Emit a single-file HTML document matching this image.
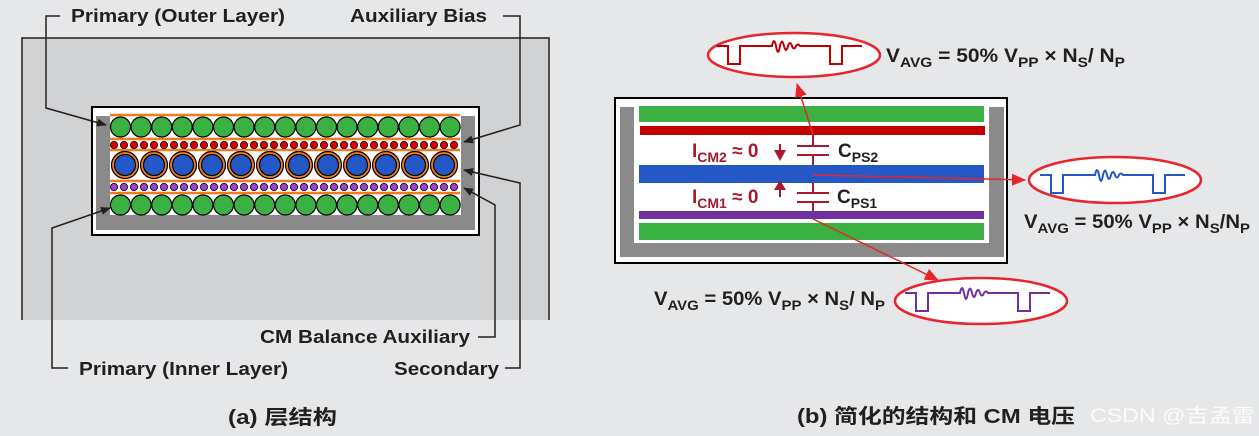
<!DOCTYPE html>
<html><head><meta charset="utf-8"><style>
html,body{margin:0;padding:0;background:#e6e7e9;}
svg{display:block;}
text{font-family:"Liberation Sans","Noto Sans CJK SC",sans-serif;font-weight:bold;}
</style></head><body>
<svg width="1259" height="436" viewBox="0 0 1259 436" xmlns="http://www.w3.org/2000/svg">
<defs>
<marker id="ab" markerWidth="10" markerHeight="8" refX="9" refY="4" orient="auto" markerUnits="userSpaceOnUse"><path d="M0,0 L10,4 L0,8 z" fill="#231f20"/></marker>
<marker id="ar" markerWidth="14" markerHeight="12" refX="13" refY="6" orient="auto" markerUnits="userSpaceOnUse"><path d="M0,0 L14,6 L0,12 z" fill="#e8242c"/></marker>
<path id="wave" d="M0,0 H11 V18 H23 V0 H55 q2,-10 4,0 q2,12 4,0 q2,-9 4,0 q2,8 4,0 q2,-6 4,0 q2,5 4,0 q2,-3 4,0 H113 V18 H125 V0 H145" fill="none" stroke-width="2"/>
</defs>
<!-- (a) -->
<rect x="22" y="38" width="527" height="282" fill="#d1d2d4"/>
<path d="M22,320 V38 H549 V320" fill="none" stroke="#231f20" stroke-width="1.5"/>
<rect x="92" y="107" width="387" height="128" fill="#fff" stroke="#000" stroke-width="2"/>
<path d="M96,116 H110 V215 H461 V116 H475 V230 H96 z" fill="#8a8a8a"/>
<g stroke="#f47a20" stroke-width="2.5">
<line x1="110" y1="115" x2="460" y2="115"/><line x1="110" y1="139" x2="460" y2="139"/>
<line x1="110" y1="150" x2="460" y2="150"/><line x1="110" y1="181" x2="460" y2="181"/>
<line x1="110" y1="193" x2="460" y2="193"/>
</g>
<!-- leaders -->
<g stroke="#231f20" stroke-width="1.5" fill="none">
<path d="M60,16 H46 V108 L106,125" marker-end="url(#ab)"/>
<path d="M503,16 H520 V125 L464,142" marker-end="url(#ab)"/>
<path d="M505,368 H520 V183 L464,170" marker-end="url(#ab)"/>
<path d="M478,337 H495 V205 L464,188" marker-end="url(#ab)"/>
<path d="M68,368 H52 V228 L110,208" marker-end="url(#ab)"/>
</g>
<g fill="#231f20" font-size="18" lengthAdjust="spacingAndGlyphs">
<text x="71" y="22" textLength="214" lengthAdjust="spacingAndGlyphs">Primary (Outer Layer)</text>
<text x="350" y="22" textLength="137" lengthAdjust="spacingAndGlyphs">Auxiliary Bias</text>
<text x="260" y="343" textLength="210" lengthAdjust="spacingAndGlyphs">CM Balance Auxiliary</text>
<text x="79" y="375" textLength="209" lengthAdjust="spacingAndGlyphs">Primary (Inner Layer)</text>
<text x="394" y="375" textLength="105" lengthAdjust="spacingAndGlyphs">Secondary</text>
</g>
<text x="228" y="424" font-size="20" fill="#231f20" textLength="109" lengthAdjust="spacingAndGlyphs">(a) 层结构</text>
<!-- (b) -->
<rect x="615" y="98" width="392" height="165" fill="#fff" stroke="#000" stroke-width="2"/>
<path d="M620,107 H634 V243 H989 V107 H1004 V257 H620 z" fill="#8a8a8a"/>
<rect x="639" y="106" width="345" height="16" fill="#3bb143"/>
<rect x="640" y="126" width="345" height="9" fill="#c00000"/>
<rect x="639" y="165" width="345" height="18" fill="#2458c6"/>
<rect x="639" y="211" width="345" height="8" fill="#7030a0"/>
<rect x="639" y="223" width="345" height="17" fill="#3bb143"/>
<g stroke="#a6192e" stroke-width="2">
<line x1="813" y1="135" x2="813" y2="146"/><line x1="797" y1="146" x2="829" y2="146"/>
<line x1="797" y1="155" x2="829" y2="155"/><line x1="813" y1="155" x2="813" y2="165"/>
<line x1="813" y1="183" x2="813" y2="193"/><line x1="797" y1="193" x2="829" y2="193"/>
<line x1="797" y1="202" x2="829" y2="202"/><line x1="813" y1="202" x2="813" y2="211"/>
<line x1="780" y1="144" x2="780" y2="152"/><line x1="780" y1="182" x2="780" y2="197"/>
</g>
<path d="M774,150 L786,150 L780,161 z" fill="#a6192e"/>
<path d="M774,190 L786,190 L780,180 z" fill="#a6192e"/>
<g fill="#a6192e" font-size="19">
<text x="692" y="157">I<tspan font-size="14" dy="5">CM2</tspan><tspan dy="-5"> ≈ 0</tspan></text>
<text x="692" y="203">I<tspan font-size="14" dy="5">CM1</tspan><tspan dy="-5"> ≈ 0</tspan></text>
</g>
<g fill="#231f20" font-size="19">
<text x="838" y="157">C<tspan font-size="14" dy="5">PS2</tspan></text>
<text x="837" y="203">C<tspan font-size="14" dy="5">PS1</tspan></text>
</g>
<g stroke="#e8242c" stroke-width="1.5" fill="none">
<line x1="813" y1="135" x2="797" y2="84" marker-end="url(#ar)"/>
<line x1="813" y1="175" x2="1025" y2="180" marker-end="url(#ar)"/>
<line x1="813" y1="219" x2="938" y2="280" marker-end="url(#ar)"/>
</g>
<g fill="#fff" stroke="#e8242c" stroke-width="2.5">
<ellipse cx="794" cy="55" rx="86" ry="22"/>
<ellipse cx="1115" cy="180" rx="86" ry="23"/>
<ellipse cx="981" cy="301" rx="86" ry="23"/>
</g>
<use href="#wave" x="717" y="46" stroke="#c00000"/>
<use href="#wave" x="1040" y="175" stroke="#2458c6"/>
<use href="#wave" x="905" y="293" stroke="#7030a0"/>
<g fill="#231f20" font-size="19">
<text x="886" y="62" textLength="239" lengthAdjust="spacingAndGlyphs">V<tspan font-size="14" dy="5">AVG</tspan><tspan dy="-5"> = 50% V</tspan><tspan font-size="14" dy="5">PP</tspan><tspan dy="-5"> × N</tspan><tspan font-size="14" dy="5">S</tspan><tspan dy="-5">/ N</tspan><tspan font-size="14" dy="5">P</tspan></text>
<text x="1024" y="228" textLength="226" lengthAdjust="spacingAndGlyphs">V<tspan font-size="14" dy="5">AVG</tspan><tspan dy="-5"> = 50% V</tspan><tspan font-size="14" dy="5">PP</tspan><tspan dy="-5"> × N</tspan><tspan font-size="14" dy="5">S</tspan><tspan dy="-5">/N</tspan><tspan font-size="14" dy="5">P</tspan></text>
<text x="654" y="305" textLength="231" lengthAdjust="spacingAndGlyphs">V<tspan font-size="14" dy="5">AVG</tspan><tspan dy="-5"> = 50% V</tspan><tspan font-size="14" dy="5">PP</tspan><tspan dy="-5"> × N</tspan><tspan font-size="14" dy="5">S</tspan><tspan dy="-5">/ N</tspan><tspan font-size="14" dy="5">P</tspan></text>
</g>
<text x="797" y="423" font-size="20" fill="#231f20" textLength="278" lengthAdjust="spacingAndGlyphs">(b) 简化的结构和 CM 电压</text>
<text x="1090" y="422" font-size="19" fill="#fff" style="font-weight:normal" opacity="0.85" textLength="165" lengthAdjust="spacingAndGlyphs">CSDN @吉孟雷</text>
<!-- circles -->
<g stroke="#000" stroke-width="1.2">
<g fill="#3bb143">
<circle cx="120.5" cy="127" r="10"/><circle cx="141.1" cy="127" r="10"/><circle cx="161.7" cy="127" r="10"/><circle cx="182.3" cy="127" r="10"/><circle cx="202.9" cy="127" r="10"/><circle cx="223.5" cy="127" r="10"/><circle cx="244.1" cy="127" r="10"/><circle cx="264.7" cy="127" r="10"/><circle cx="285.3" cy="127" r="10"/><circle cx="305.9" cy="127" r="10"/><circle cx="326.5" cy="127" r="10"/><circle cx="347.1" cy="127" r="10"/><circle cx="367.7" cy="127" r="10"/><circle cx="388.3" cy="127" r="10"/><circle cx="408.9" cy="127" r="10"/><circle cx="429.5" cy="127" r="10"/><circle cx="450.1" cy="127" r="10"/>
<circle cx="120.5" cy="205" r="10"/><circle cx="141.1" cy="205" r="10"/><circle cx="161.7" cy="205" r="10"/><circle cx="182.3" cy="205" r="10"/><circle cx="202.9" cy="205" r="10"/><circle cx="223.5" cy="205" r="10"/><circle cx="244.1" cy="205" r="10"/><circle cx="264.7" cy="205" r="10"/><circle cx="285.3" cy="205" r="10"/><circle cx="305.9" cy="205" r="10"/><circle cx="326.5" cy="205" r="10"/><circle cx="347.1" cy="205" r="10"/><circle cx="367.7" cy="205" r="10"/><circle cx="388.3" cy="205" r="10"/><circle cx="408.9" cy="205" r="10"/><circle cx="429.5" cy="205" r="10"/><circle cx="450.1" cy="205" r="10"/>
</g>
<g fill="#e00000" stroke-width="0.8">
<circle cx="114" cy="145" r="3.6"/><circle cx="124" cy="145" r="3.6"/><circle cx="134" cy="145" r="3.6"/><circle cx="144" cy="145" r="3.6"/><circle cx="154" cy="145" r="3.6"/><circle cx="164" cy="145" r="3.6"/><circle cx="174" cy="145" r="3.6"/><circle cx="184" cy="145" r="3.6"/><circle cx="194" cy="145" r="3.6"/><circle cx="204" cy="145" r="3.6"/><circle cx="214" cy="145" r="3.6"/><circle cx="224" cy="145" r="3.6"/><circle cx="234" cy="145" r="3.6"/><circle cx="244" cy="145" r="3.6"/><circle cx="254" cy="145" r="3.6"/><circle cx="264" cy="145" r="3.6"/><circle cx="274" cy="145" r="3.6"/><circle cx="284" cy="145" r="3.6"/><circle cx="294" cy="145" r="3.6"/><circle cx="304" cy="145" r="3.6"/><circle cx="314" cy="145" r="3.6"/><circle cx="324" cy="145" r="3.6"/><circle cx="334" cy="145" r="3.6"/><circle cx="344" cy="145" r="3.6"/><circle cx="354" cy="145" r="3.6"/><circle cx="364" cy="145" r="3.6"/><circle cx="374" cy="145" r="3.6"/><circle cx="384" cy="145" r="3.6"/><circle cx="394" cy="145" r="3.6"/><circle cx="404" cy="145" r="3.6"/><circle cx="414" cy="145" r="3.6"/><circle cx="424" cy="145" r="3.6"/><circle cx="434" cy="145" r="3.6"/><circle cx="444" cy="145" r="3.6"/><circle cx="454" cy="145" r="3.6"/>
</g>
<g fill="#9b3fd6" stroke-width="0.8">
<circle cx="114" cy="187" r="3.6"/><circle cx="124" cy="187" r="3.6"/><circle cx="134" cy="187" r="3.6"/><circle cx="144" cy="187" r="3.6"/><circle cx="154" cy="187" r="3.6"/><circle cx="164" cy="187" r="3.6"/><circle cx="174" cy="187" r="3.6"/><circle cx="184" cy="187" r="3.6"/><circle cx="194" cy="187" r="3.6"/><circle cx="204" cy="187" r="3.6"/><circle cx="214" cy="187" r="3.6"/><circle cx="224" cy="187" r="3.6"/><circle cx="234" cy="187" r="3.6"/><circle cx="244" cy="187" r="3.6"/><circle cx="254" cy="187" r="3.6"/><circle cx="264" cy="187" r="3.6"/><circle cx="274" cy="187" r="3.6"/><circle cx="284" cy="187" r="3.6"/><circle cx="294" cy="187" r="3.6"/><circle cx="304" cy="187" r="3.6"/><circle cx="314" cy="187" r="3.6"/><circle cx="324" cy="187" r="3.6"/><circle cx="334" cy="187" r="3.6"/><circle cx="344" cy="187" r="3.6"/><circle cx="354" cy="187" r="3.6"/><circle cx="364" cy="187" r="3.6"/><circle cx="374" cy="187" r="3.6"/><circle cx="384" cy="187" r="3.6"/><circle cx="394" cy="187" r="3.6"/><circle cx="404" cy="187" r="3.6"/><circle cx="414" cy="187" r="3.6"/><circle cx="424" cy="187" r="3.6"/><circle cx="434" cy="187" r="3.6"/><circle cx="444" cy="187" r="3.6"/><circle cx="454" cy="187" r="3.6"/>
</g>
<g fill="#2458c6">
<circle cx="125" cy="165" r="13.5" fill="#f47a20"/><circle cx="125" cy="165" r="10.5"/>
<circle cx="154" cy="165" r="13.5" fill="#f47a20"/><circle cx="154" cy="165" r="10.5"/>
<circle cx="183" cy="165" r="13.5" fill="#f47a20"/><circle cx="183" cy="165" r="10.5"/>
<circle cx="212" cy="165" r="13.5" fill="#f47a20"/><circle cx="212" cy="165" r="10.5"/>
<circle cx="241" cy="165" r="13.5" fill="#f47a20"/><circle cx="241" cy="165" r="10.5"/>
<circle cx="270" cy="165" r="13.5" fill="#f47a20"/><circle cx="270" cy="165" r="10.5"/>
<circle cx="299" cy="165" r="13.5" fill="#f47a20"/><circle cx="299" cy="165" r="10.5"/>
<circle cx="328" cy="165" r="13.5" fill="#f47a20"/><circle cx="328" cy="165" r="10.5"/>
<circle cx="357" cy="165" r="13.5" fill="#f47a20"/><circle cx="357" cy="165" r="10.5"/>
<circle cx="386" cy="165" r="13.5" fill="#f47a20"/><circle cx="386" cy="165" r="10.5"/>
<circle cx="415" cy="165" r="13.5" fill="#f47a20"/><circle cx="415" cy="165" r="10.5"/>
<circle cx="444" cy="165" r="13.5" fill="#f47a20"/><circle cx="444" cy="165" r="10.5"/>
</g>
</g>
</svg>
</body></html>
